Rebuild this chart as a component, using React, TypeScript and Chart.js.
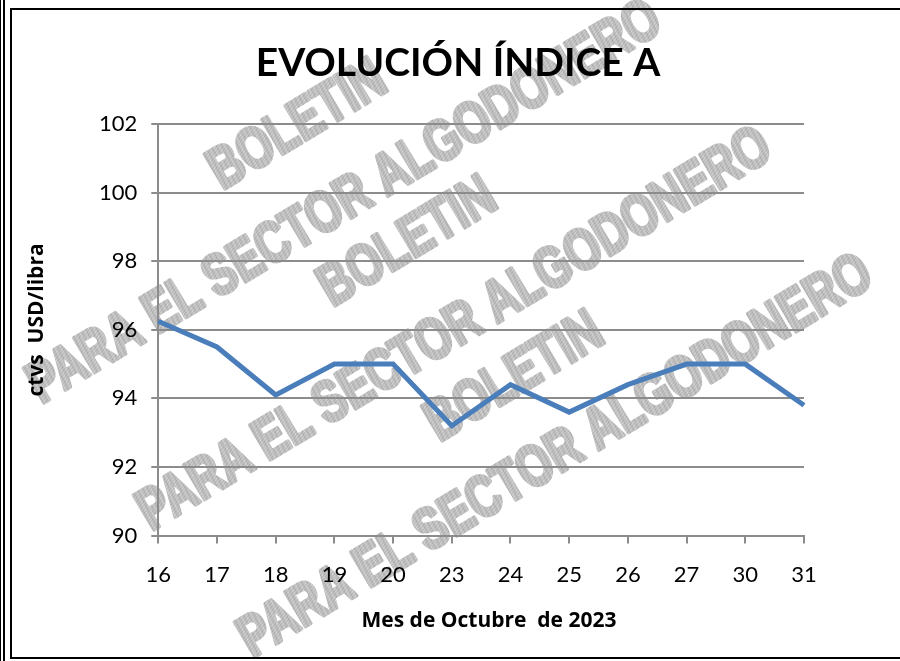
import React, { useEffect, useRef } from "react";
import { Chart, registerables } from "chart.js";

Chart.register(...registerables);

const categories = ["16", "17", "18", "19", "20", "23", "24", "25", "26", "27", "30", "31"];
const indiceA = [96.25, 95.5, 94.1, 95.0, 95.0, 93.2, 94.4, 93.6, 94.4, 95.0, 95.0, 93.8];
const yTicksMin = 90;
const yTicksMax = 102;
const yTickStep = 2;
const titleText = "EVOLUCIÓN ÍNDICE A";
const yAxisTitle = "ctvs  USD/libra";
const xAxisTitle = "Mes de Octubre  de 2023";
const watermarkTop = "BOLETIN";
const watermarkBottom = "PARA EL SECTOR ALGODONERO";

function makePattern(ctx: CanvasRenderingContext2D) {
  const c = document.createElement("canvas");
  c.width = 2;
  c.height = 2;
  const p = c.getContext("2d")!;
  p.fillStyle = "#dadada";
  p.fillRect(0, 0, 2, 2);
  p.fillStyle = "#a4a4a4";
  p.fillRect(0, 0, 1, 1);
  p.fillRect(1, 1, 1, 1);
  return ctx.createPattern(c, "repeat") || "#c4c4c4";
}

const watermarkPlugin = {
  id: "watermark",
  beforeDraw(chart: any) {
    const ctx = chart.ctx as CanvasRenderingContext2D;
    ctx.save();
    const pat = makePattern(ctx);
    ctx.fillStyle = pat;
    ctx.strokeStyle = pat;
    ctx.lineWidth = 4;
    ctx.lineJoin = "round";
    ctx.textAlign = "center";
    ctx.textBaseline = "middle";
    const groups = [
      { b: [298, 126], p: [345, 203] },
      { b: [408, 243], p: [455, 330] },
      { b: [515, 378], p: [556, 457] },
    ];
    const ang = (-31 * Math.PI) / 180;
    const font = "bold 58px 'Liberation Sans', Arial, sans-serif";
    for (const g of groups) {
      for (const [txt, pos] of [[watermarkTop, g.b], [watermarkBottom, g.p]] as [string, number[]][]) {
        ctx.save();
        ctx.translate(pos[0], pos[1]);
        ctx.rotate(ang);
        ctx.scale(0.77, 1);
        ctx.font = font;
        ctx.fillText(txt, 0, 0);
        ctx.strokeText(txt, 0, 0);
        ctx.restore();
      }
    }
    ctx.restore();
  },
};

const titlesPlugin = {
  id: "customTitles",
  afterDraw(chart: any) {
    const ctx = chart.ctx as CanvasRenderingContext2D;
    ctx.save();
    ctx.fillStyle = "#000";
    ctx.textAlign = "center";
    ctx.textBaseline = "alphabetic";
    ctx.font = "bold 39px Lato, 'Open Sans', sans-serif";
    ctx.fillText(titleText, 458, 76);
    ctx.font = "bold 21px 'Open Sans', Lato, sans-serif";
    ctx.fillText(xAxisTitle, 489, 627);
    ctx.translate(43, 320);
    ctx.rotate(-Math.PI / 2);
    ctx.font = "bold 21px 'Open Sans', Lato, sans-serif";
    ctx.fillText(yAxisTitle, 0, 0);
    ctx.restore();
  },
};

export default function App() {
  const ref = useRef<HTMLCanvasElement>(null);
  useEffect(() => {
    if (!ref.current) return;
    const chart = new Chart(ref.current, {
      type: "line",
      data: {
        labels: categories,
        datasets: [
          {
            label: "Índice A",
            data: indiceA,
            borderColor: "#4a7ebb",
            borderWidth: 5,
            pointRadius: 0,
            tension: 0,
            fill: false,
          },
        ],
      },
      options: {
        animation: false,
        responsive: false,
        layout: { padding: { top: 124, right: 96, bottom: 55, left: 85 } },
        plugins: {
          legend: { display: false },
          tooltip: { enabled: false },
          title: { display: false },
        },
        scales: {
          x: {
            offset: false,
            border: { display: true, color: "#8c8c8c", width: 2 },
            grid: { display: true, drawOnChartArea: false, drawTicks: true, tickLength: 8, color: "#8c8c8c", lineWidth: 2 },
            ticks: { color: "#000", font: { family: "Lato, sans-serif", size: 22 }, padding: 18, maxRotation: 0, autoSkip: false },
          },
          y: {
            min: yTicksMin,
            max: yTicksMax,
            border: { display: true, color: "#8c8c8c", width: 2 },
            grid: { color: "#8c8c8c", lineWidth: 2, tickLength: 7 },
            ticks: { stepSize: yTickStep, color: "#000", font: { family: "Lato, sans-serif", size: 22 }, padding: 14 },
          },
        },
      },
      plugins: [watermarkPlugin, titlesPlugin],
    });
    return () => chart.destroy();
  }, []);

  return (
    <div style={{ position: "fixed", left: 0, top: 0, width: 900, height: 661, background: "#fff", overflow: "hidden" }}>
      <canvas ref={ref} width={900} height={661} style={{ position: "absolute", left: 0, top: 0 }} />
      <div style={{ position: "absolute", left: 0, top: 0, width: 1, height: 661, background: "#000" }} />
      <div style={{ position: "absolute", left: 3, top: 0, width: 2, height: 661, background: "#000" }} />
      <div style={{ position: "absolute", left: 10, top: 8, width: 900, height: 651, borderTop: "2px solid #000", borderLeft: "2px solid #000", borderBottom: "2px solid #000", boxSizing: "border-box" }} />
    </div>
  );
}
